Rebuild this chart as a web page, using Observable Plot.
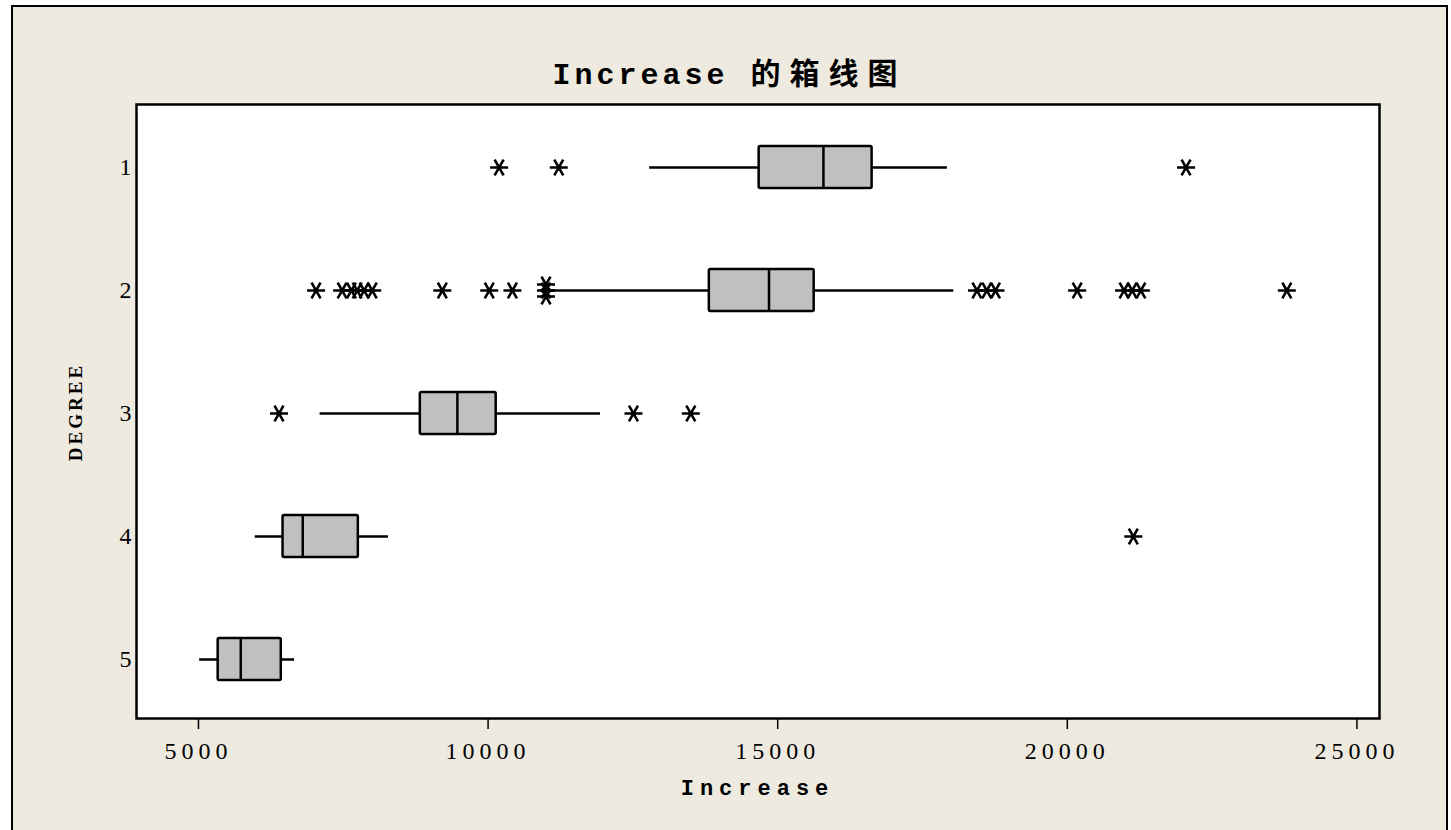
<!DOCTYPE html>
<html>
<head>
<meta charset="utf-8">
<script src="https://cdn.jsdelivr.net/npm/d3@7"></script>
<script src="https://cdn.jsdelivr.net/npm/@observablehq/plot@0.6"></script>
<style>
  html, body { margin: 0; padding: 0; background: #ffffff; width: 1451px; height: 830px; overflow: hidden; }
  #panel { position: absolute; left: 11px; top: 5px; width: 1433px; height: 830px;
    border: 2px solid #000; border-bottom: none; background: #EEEAE0; }
  #title { position: absolute; left: 0; width: 1433px; top: 46px; height: 36px; line-height: 36px;
    text-align: center; font-family: "Liberation Mono", "Noto Sans CJK SC", monospace; font-size: 30px;
    font-weight: bold; color: #000; white-space: nowrap; }
  #title .lat { letter-spacing: 4px; }
  #title .cjk { font-family: "Noto Sans CJK SC", sans-serif; letter-spacing: 9px; font-weight: 600; }
  #chart { position: absolute; left: 0; top: 83px; }
  #xlabel { position: absolute; left: 123px; width: 1243px; top: 770px; height: 26px; line-height: 26px;
    text-align: center; font-family: "Liberation Mono", monospace; font-size: 22px; font-weight: bold;
    letter-spacing: 6px; color: #000; }
  #ylabel { position: absolute; left: 63px; top: 405px; transform: translate(-50%, -50%) rotate(-90deg);
    font-family: "Liberation Serif", serif; font-size: 19px; font-weight: bold; letter-spacing: 3px;
    color: #000; white-space: nowrap; }
</style>
</head>
<body>
<div id="panel">
  <div id="title"><span class="lat">Increase </span><span class="cjk">的箱线图</span></div>
  <div id="chart"></div>
  <div id="xlabel">Increase</div>
  <div id="ylabel">DEGREE</div>
</div>
<script>
// ---- data ----
const degrees     = ["1", "2", "3", "4", "5"];
const whiskerLow  = [12790, 11050, 7100, 5980, 5020];
const q1          = [14680, 13820, 8830, 6460, 5340];
const medians     = [15790, 14850, 9470, 6800, 5730];
const q3          = [16630, 15630, 10140, 7760, 6430];
const whiskerHigh = [17930, 18040, 11940, 8280, 6660];

const outliers1 = [10190, 11220, 22050];
const outliers2 = [7030, 7480, 7640, 7740, 7860, 8000, 9210, 10020, 10420, 11000,
                   18440, 18610, 18760, 20170, 20980, 21120, 21270, 23790];
const outliers2Repeats = [11000, 11000];   // tied values drawn stacked
const outliers3 = [6390, 12510, 13500];
const outliers4 = [21140];
const outliers5 = [];

const xTicks = [5000, 10000, 15000, 20000, 25000];

// ---- tables built from the arrays ----
const boxes = degrees.map((d, i) => ({
  degree: d, lo: whiskerLow[i], q1: q1[i], med: medians[i], q3: q3[i], hi: whiskerHigh[i]
}));
const outlierLists = [outliers1, outliers2, outliers3, outliers4, outliers5];
const outliers = outlierLists.flatMap((list, i) => list.map(v => ({degree: degrees[i], value: v})));
const repeats = outliers2Repeats.map(v => ({degree: "2", value: v}));

// Minitab-style asterisk: horizontal bar with two diagonals
const star = {
  draw(ctx, size) {
    const r = Math.sqrt(size / Math.PI);
    const c = r * 0.5, s = r * 0.866;
    ctx.moveTo(-r, 0); ctx.lineTo(r, 0);
    ctx.moveTo(-c, -s); ctx.lineTo(c, s);
    ctx.moveTo(-c, s); ctx.lineTo(c, -s);
  }
};
const dotStyle = { y: "degree", x: "value", symbol: star, r: 9, fill: "none", stroke: "black", strokeWidth: 2.6 };

const chart = Plot.plot({
  width: 1433,
  height: 740,
  marginLeft: 123,
  marginRight: 67,
  marginTop: 14,
  marginBottom: 112,
  style: { background: "transparent", fontFamily: "Liberation Serif, serif", fontSize: "24px", color: "#000", overflow: "visible" },
  x: { domain: [3930, 25390], ticks: xTicks, tickFormat: d3.format("d"), tickSize: 11, tickPadding: 12, label: null },
  y: { type: "band", domain: degrees, paddingInner: 0.658, paddingOuter: 0.32, align: 0.53, tickSize: 0, tickPadding: 5, label: null },
  marks: [
    Plot.frame({ fill: "white", stroke: "none" }),
    Plot.ruleY(boxes, { y: "degree", x1: "lo", x2: "q1", stroke: "black", strokeWidth: 2.5 }),
    Plot.ruleY(boxes, { y: "degree", x1: "q3", x2: "hi", stroke: "black", strokeWidth: 2.5 }),
    Plot.barX(boxes, { y: "degree", x1: "q1", x2: "q3", fill: "#C0C0C0", stroke: "black", strokeWidth: 2.5, rx: 1.5 }),
    Plot.tickX(boxes, { y: "degree", x: "med", stroke: "black", strokeWidth: 2.5 }),
    Plot.dot(outliers, dotStyle),
    Plot.dot(repeats.slice(0, 1), { ...dotStyle, dy: -6 }),
    Plot.dot(repeats.slice(1), { ...dotStyle, dy: 6 }),
    Plot.frame({ stroke: "black", strokeWidth: 2.5 })
  ]
});
document.getElementById("chart").appendChild(chart);
d3.select(chart).selectAll('[aria-label^="x-axis"] text').style("letter-spacing", "5px");
d3.select(chart).selectAll('[aria-label^="x-axis"] path, [aria-label^="x-axis"] line').attr("stroke-width", 1.5);
</script>
</body>
</html>
